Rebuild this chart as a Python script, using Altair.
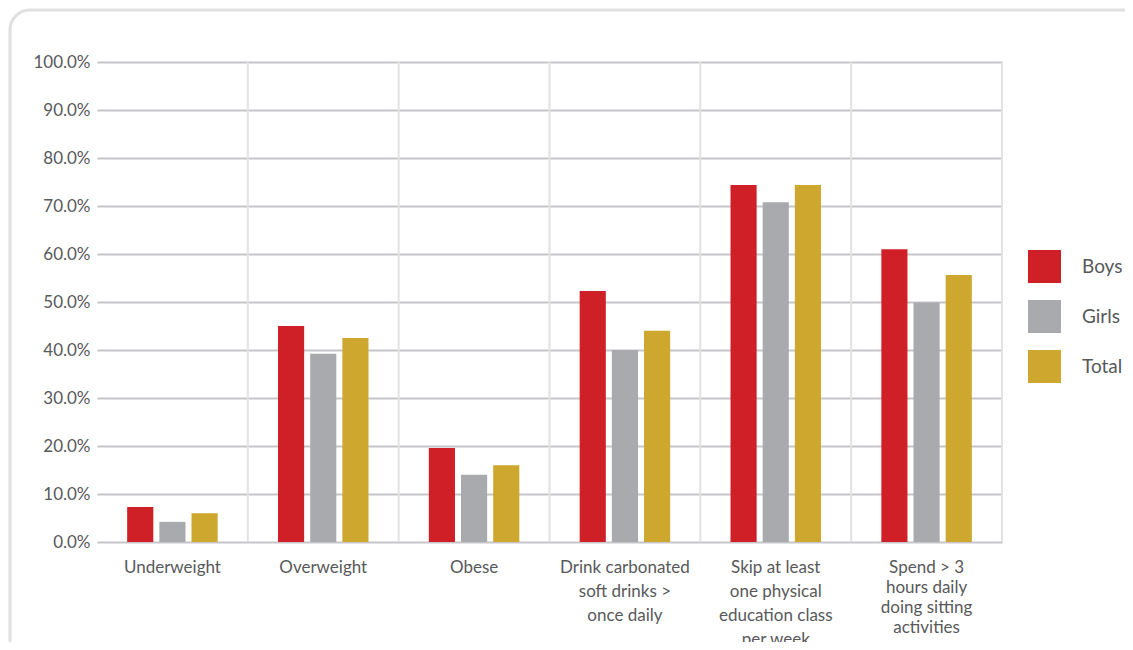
import altair as alt
import pandas as pd

categories = [
    "Underweight",
    "Overweight",
    "Obese",
    "Drink carbonated|soft drinks >|once daily",
    "Skip at least|one physical|education class|per week",
    "Spend > 3|hours daily|doing sitting|activities",
]
series = ["Boys", "Girls", "Total"]
boys = [7.3, 45.0, 19.6, 52.3, 74.4, 61.0]
girls = [4.2, 39.2, 14.0, 40.0, 70.8, 49.9]
total = [6.0, 42.5, 16.0, 44.0, 74.4, 55.6]
colors = ["#cf2027", "#a9aaad", "#cda72e"]
y_ticks = [0, 10, 20, 30, 40, 50, 60, 70, 80, 90, 100]

rows = []
for s, vals in zip(series, [boys, girls, total]):
    for c, v in zip(categories, vals):
        rows.append({"cat": c, "series": s, "value": v})
df = pd.DataFrame(rows)

FONT = "Lato"
TXT = "#58595b"

x_enc = alt.X(
    "cat:N",
    sort=categories,
    scale=alt.Scale(paddingInner=0, paddingOuter=0),
    axis=alt.Axis(
        title=None,
        labelExpr="split(datum.label, '|')",
        labelAngle=0,
        labelAlign="center",
        labelFont=FONT,
        labelFontSize=17,
        labelColor=TXT,
        labelPadding=17,
        labelLineHeight={"expr": "indexof(datum.value, 'Spend') == 0 ? 20 : 24"},
        labelLimit=200,
        ticks=False,
        domain=False,
        grid=False,
    ),
)

bars = (
    alt.Chart(df)
    .mark_bar()
    .encode(
        x=x_enc,
        xOffset=alt.XOffset(
            "series:N",
            sort=series,
            scale=alt.Scale(paddingInner=0.1875, paddingOuter=0.9375),
        ),
        y=alt.Y(
            "value:Q",
            scale=alt.Scale(domain=[0, 100], nice=False),
            axis=alt.Axis(
                title=None,
                values=y_ticks,
                labelExpr="format(datum.value, '.1f') + '%'",
                labelFont=FONT,
                labelFontSize=17,
                labelColor=TXT,
                labelPadding=7,
                ticks=False,
                domain=False,
                grid=True,
                gridColor="#c6c6ca",
                gridWidth=2,
            ),
        ),
        color=alt.Color(
            "series:N",
            sort=series,
            scale=alt.Scale(domain=series, range=colors),
            legend=alt.Legend(
                title=None,
                orient="none",
                legendX=931,
                legendY=188,
                symbolType="square",
                symbolSize=1089,
                symbolStrokeWidth=0,
                labelFont=FONT,
                labelFontSize=19,
                labelColor=TXT,
                labelOffset=21,
                rowPadding=17,
                padding=0,
            ),
        ),
    )
)

seps = (
    alt.Chart(pd.DataFrame({"sep": categories}))
    .mark_rule(color="#e2e2e2", strokeWidth=2)
    .encode(
        x=alt.X(
            "sep:N",
            sort=categories,
            bandPosition=1,
            scale=alt.Scale(paddingInner=0, paddingOuter=0),
            axis=None,
        ),
        y=alt.datum(0),
        y2=alt.datum(100),
    )
)

frame = (
    alt.Chart(alt.Data(values=[{}]))
    .mark_rect(filled=False, stroke="#e0e0e0", strokeWidth=3, cornerRadius=20)
    .encode(
        x=alt.value(-87),
        x2=alt.value(1150),
        y=alt.value(-52),
        y2=alt.value(700),
    )
)

chart = (
    alt.layer(frame, seps, bars)
    .resolve_scale(x="independent")
    .properties(
        width=905,
        height=480,
        autosize=alt.AutoSizeParams(type="none"),
        padding={"left": 89, "top": 54, "right": 123, "bottom": 100},
    )
    .configure_view(stroke=None)
)

chart.save("out.html", embed_options={"renderer": "svg", "actions": False})
